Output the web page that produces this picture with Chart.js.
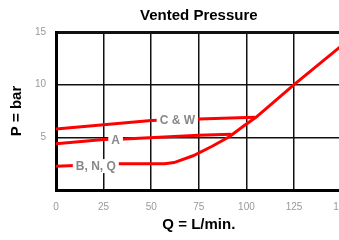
<!DOCTYPE html>
<html>
<head>
<meta charset="utf-8">
<script src="https://cdn.jsdelivr.net/npm/chart.js@4/dist/chart.umd.min.js"></script>
<style>
  html, body { margin: 0; padding: 0; background: #fff; overflow: hidden; }
  #wrap { width: 339px; height: 240px; overflow: hidden; }
</style>
</head>
<body>
<div id="wrap">
  <canvas id="chart" width="361" height="240"></canvas>
</div>
<script>
// data (Q in L/min, P in bar)
const flowCW = [0, 50, 75, 104.5];
const presCW = [5.8, 6.6, 6.75, 6.9];

const flowA = [0, 25, 36, 75, 92];
const presA = [4.4, 4.8, 4.85, 5.2, 5.3];

const flowBNQ = [0, 33, 57, 62, 72, 82, 91, 98, 105, 125, 150];
const presBNQ = [2.25, 2.5, 2.5, 2.6, 3.25, 4.15, 5.05, 6.0, 6.9, 10, 13.7];

const seriesNames = ['C & W', 'A', 'B, N, Q'];
const xTicks = [0, 25, 50, 75, 100, 125, 150];
const yTicks = [5, 10, 15];

function pts(xs, ys) {
  return xs.map((x, i) => ({ x: x, y: ys[i] }));
}

Chart.defaults.font.family = "'Liberation Sans', Arial, sans-serif";

// where the series names sit on the plot (data coords)
const labelAt = [[63.7, 6.7], [31.3, 4.73], [20.9, 2.27]];

const seriesLabels = {
  id: 'seriesLabels',
  afterDatasetsDraw(chart) {
    const ctx = chart.ctx;
    const xs = chart.scales.x, ys = chart.scales.y;
    ctx.save();
    ctx.font = "bold 12px 'Liberation Sans', Arial, sans-serif";
    ctx.textAlign = 'center';
    ctx.textBaseline = 'middle';
    seriesNames.forEach((name, i) => {
      const px = xs.getPixelForValue(labelAt[i][0]);
      const py = ys.getPixelForValue(labelAt[i][1]);
      const w = ctx.measureText(name).width;
      ctx.fillStyle = '#fff';
      ctx.fillRect(px - w / 2 - 3, py - 7, w + 6, 14);
      ctx.fillStyle = '#888';
      ctx.fillText(name, px, py + 1);
    });
    ctx.restore();
  }
};

const lineStyle = { borderColor: '#ff0000', borderWidth: 3, pointRadius: 0, tension: 0, fill: false };

new Chart(document.getElementById('chart'), {
  type: 'line',
  data: {
    datasets: [
      Object.assign({ label: seriesNames[0], data: pts(flowCW, presCW) }, lineStyle),
      Object.assign({ label: seriesNames[1], data: pts(flowA, presA) }, lineStyle),
      Object.assign({ label: seriesNames[2], data: pts(flowBNQ, presBNQ) }, lineStyle)
    ]
  },
  options: {
    responsive: false,
    animation: false,
    layout: { padding: 0 },
    plugins: {
      legend: { display: false },
      tooltip: { enabled: false },
      title: {
        display: true,
        text: 'Vented Pressure',
        fullSize: false,
        color: '#000',
        font: { size: 15, weight: 'bold' },
        padding: { top: 7, bottom: 7 }
      }
    },
    scales: {
      x: {
        type: 'linear',
        min: 0,
        max: 150,
        afterBuildTicks: s => { s.ticks = xTicks.map(v => ({ value: v })); },
        afterFit: s => { s.height = 50; },
        ticks: { color: '#999', font: { size: 10 }, padding: 11, maxRotation: 0 },
        grid: {
          drawTicks: false,
          lineWidth: 1.5,
          color: c => (c.tick && (c.tick.value === 0 || c.tick.value === 150)) ? 'rgba(0,0,0,0)' : '#111'
        },
        border: { display: true, color: '#000', width: 3 },
        title: {
          display: true,
          text: 'Q = L/min.',
          color: '#000',
          font: { size: 15, weight: 'bold' },
          padding: { top: 0, bottom: 6 }
        }
      },
      y: {
        min: 0,
        max: 15,
        afterBuildTicks: s => { s.ticks = [0].concat(yTicks).map(v => ({ value: v })); },
        afterFit: s => { s.width = 56; },
        ticks: {
          color: '#999',
          font: { size: 10 },
          padding: 10,
          callback: v => (v === 0 ? '' : v)
        },
        grid: {
          drawTicks: false,
          lineWidth: c => (c.tick && c.tick.value === 15) ? 3 : 1.5,
          color: c => (c.tick && c.tick.value === 0) ? 'rgba(0,0,0,0)' : '#111'
        },
        border: { display: true, color: '#000', width: 3 },
        title: {
          display: true,
          text: 'P = bar',
          color: '#000',
          font: { size: 15, weight: 'bold' },
          padding: { top: 8, bottom: 0 }
        }
      }
    }
  },
  plugins: [seriesLabels]
});
</script>
</body>
</html>
